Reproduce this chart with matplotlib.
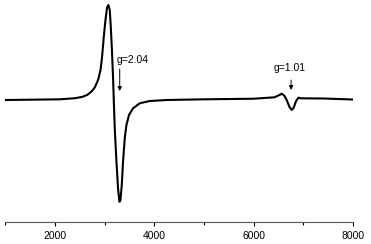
import numpy as np
import matplotlib.pyplot as plt
from matplotlib.ticker import MultipleLocator

plt.rcParams['font.family'] = ['Liberation Sans', 'DejaVu Sans']

# EPR-style derivative spectrum
field = [1000, 2095, 2400, 2550, 2650, 2740, 2799, 2865, 2914, 2946, 2980,
         3014, 3046, 3074, 3100, 3121, 3147, 3166, 3181, 3201, 3235, 3267,
         3295, 3316, 3342, 3368, 3402, 3436, 3488, 3569, 3703, 3904, 4240,
         5000, 6000, 6417, 6518, 6564, 6618, 6664, 6718, 6765, 6805, 6853,
         6900, 6954, 7422, 8000]
signal = [0, 0.7, 1.8, 3.2, 5.2, 8.8, 12.7, 20, 30, 43.3, 63.3,
          80, 92.7, 95, 90, 73.3, 46.7, 23.3, 0, -28.3, -61.7, -88.3,
          -101.7, -100, -85, -61.7, -38.3, -25, -15, -8.3, -3.3, -1, 0,
          0.7, 1.3, 2.7, 5, 6.3, 4.3, 0, -6.7, -10, -7.7, -1,
          2.3, 1.7, 1.5, 0.5]

g_labels = ["g=2.04", "g=1.01"]
g_fields = [3301, 6753]

fig = plt.figure(figsize=(3.71, 2.44), dpi=100)
ax = fig.add_axes([0.0148, 0.090, 0.9367, 0.910])

ax.plot(field, signal, color="black", lw=1.5, solid_joinstyle="round")

# arrows pointing at the two signals
ax.annotate("", xy=(g_fields[0], 9), xytext=(g_fields[0], 31),
            arrowprops=dict(arrowstyle="-|>", lw=0.7, color="black",
                            mutation_scale=6, shrinkA=0, shrinkB=0))
ax.text(3241, 40, g_labels[0], fontsize=7.5, va="center", ha="left")
ax.annotate("", xy=(g_fields[1], 10), xytext=(g_fields[1], 20),
            arrowprops=dict(arrowstyle="-|>", lw=0.7, color="black",
                            mutation_scale=6, shrinkA=0, shrinkB=0))
ax.text(6718, 32, g_labels[1], fontsize=7.5, va="center", ha="center")

ax.set_xlim(1000, 8000)
ax.set_ylim(-122, 100)
ax.xaxis.set_major_locator(MultipleLocator(2000))
ax.xaxis.set_minor_locator(MultipleLocator(1000))
ax.tick_params(axis="x", which="major", length=3, width=0.8, labelsize=7.5, pad=3.5)
ax.tick_params(axis="x", which="minor", length=2, width=0.8)
ax.set_yticks([])
for s in ["left", "right", "top"]:
    ax.spines[s].set_visible(False)
ax.spines["bottom"].set_linewidth(0.8)
ax.spines["bottom"].set_color("#555555")

fig.savefig("out.png", dpi=100)
